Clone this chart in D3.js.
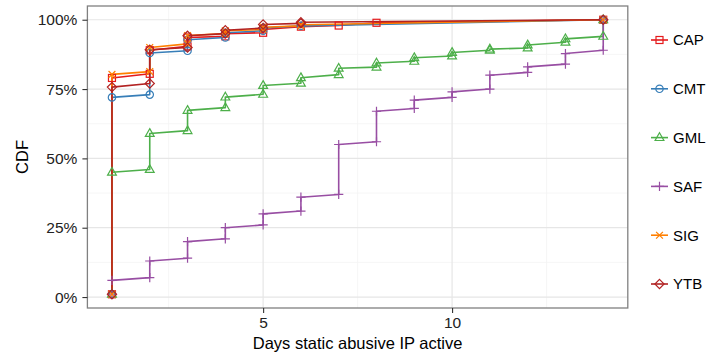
<!DOCTYPE html>
<html>
<head>
<meta charset="utf-8">
<script src="https://cdn.jsdelivr.net/npm/d3@7"></script>
<style>
  html, body { margin: 0; padding: 0; background: #fff; }
  svg { display: block; font-family: "Liberation Sans", Arial, Helvetica, sans-serif; }
</style>
</head>
<body>
<svg id="chart" width="706" height="356"></svg>
<script>
// ---- data (x = days, y = CDF in %) ----
const seriesNames = ["CAP", "CMT", "GML", "SAF", "SIG", "YTB"];
const seriesColors = ["#E41A1C", "#377EB8", "#4DAF4A", "#984EA3", "#FF7F00", "#B22222"];
const seriesShapes = ["square", "circle", "triangle", "plus", "cross", "diamond"];

const capX = [1, 1, 2, 2, 3, 3, 4, 4, 5, 5, 6, 7, 8, 14];
const capY = [1, 79, 80.5, 89, 90.4, 93.6, 94, 95, 95.3, 96.5, 97.5, 97.9, 98.9, 100];

const cmtX = [1, 1, 2, 2, 3, 3, 4, 4, 5, 5, 6, 14];
const cmtY = [1, 72, 73, 88, 88.8, 92.8, 93.6, 95.3, 96, 97, 97.8, 100];

const gmlX = [1, 1, 2, 2, 3, 3, 4, 4, 5, 5, 6, 6, 7, 7, 8, 8, 9, 9, 10, 10, 11, 11, 12, 12, 13, 13, 14, 14];
const gmlY = [1, 45, 46, 59, 60, 67.3, 68.3, 72.1, 73.1, 76.3, 77.1, 79.1, 80.2, 82.5, 82.9, 84.4, 85, 86.3, 86.9, 88.2, 89, 89.4, 89.8, 90.9, 91.9, 93.1, 94, 100];

const safX = [1, 1, 2, 2, 3, 3, 4, 4, 5, 5, 6, 6, 7, 7, 8, 8, 9, 9, 10, 10, 11, 11, 12, 12, 13, 13, 14, 14];
const safY = [1, 6, 7, 13, 14, 20, 21, 25, 26, 30, 31, 36, 37, 55, 56, 67, 68, 71, 72, 74, 75, 80, 81, 83, 84, 87.8, 89, 100];

const sigX = [1, 1, 2, 2, 3, 3, 4, 4, 5, 5, 6, 6, 14];
const sigY = [1, 80.3, 81.3, 90, 91.3, 94.3, 95, 96, 96.5, 97.3, 97.8, 98.2, 100];

const ytbX = [1, 1, 2, 2, 3, 3, 4, 4, 5, 5, 6, 6, 14];
const ytbY = [1, 75.7, 77, 89.2, 90, 94.2, 95, 96.2, 97, 98.3, 98.7, 99.1, 100];

const xTicks = [5, 10];
const yTicks = [0, 25, 50, 75, 100];
const yTickLabels = ["0%", "25%", "50%", "75%", "100%"];

const allX = [capX, cmtX, gmlX, safX, sigX, ytbX];
const allY = [capY, cmtY, gmlY, safY, sigY, ytbY];

// ---- layout ----
const svg = d3.select("#chart");
const panel = { left: 87.4, right: 627.8, top: 6, bottom: 308 };

const xMin = 1, xMax = 14, yMin = 1, yMax = 100;
const xPad = (xMax - xMin) * 0.05, yPad = (yMax - yMin) * 0.05;
const x = d3.scaleLinear().domain([xMin - xPad, xMax + xPad]).range([panel.left, panel.right]);
const y = d3.scaleLinear().domain([yMin - yPad, yMax + yPad]).range([panel.bottom, panel.top]);

// background
svg.append("rect").attr("x", panel.left).attr("y", panel.top)
  .attr("width", panel.right - panel.left).attr("height", panel.bottom - panel.top)
  .attr("fill", "#fff");

// grid
const g = svg.append("g");
const xMinor = [2.5, 7.5, 12.5];
const yMinor = [12.5, 37.5, 62.5, 87.5];
g.selectAll(".xminor").data(xMinor).enter().append("line")
  .attr("x1", d => x(d)).attr("x2", d => x(d)).attr("y1", panel.top).attr("y2", panel.bottom)
  .attr("stroke", "#F4F4F4").attr("stroke-width", 0.8);
g.selectAll(".yminor").data(yMinor).enter().append("line")
  .attr("y1", d => y(d)).attr("y2", d => y(d)).attr("x1", panel.left).attr("x2", panel.right)
  .attr("stroke", "#F4F4F4").attr("stroke-width", 0.8);
g.selectAll(".xmajor").data(xTicks).enter().append("line")
  .attr("x1", d => x(d)).attr("x2", d => x(d)).attr("y1", panel.top).attr("y2", panel.bottom)
  .attr("stroke", "#E6E6E6").attr("stroke-width", 1.2);
g.selectAll(".ymajor").data(yTicks).enter().append("line")
  .attr("y1", d => y(d)).attr("y2", d => y(d)).attr("x1", panel.left).attr("x2", panel.right)
  .attr("stroke", "#E6E6E6").attr("stroke-width", 1.2);

// symbol drawing
function drawShape(sel, shape, color) {
  const sw = 1.2;
  if (shape === "square") {
    sel.append("rect").attr("x", -3.5).attr("y", -3.5).attr("width", 7).attr("height", 7)
      .attr("fill", "none").attr("stroke", color).attr("stroke-width", sw);
  } else if (shape === "circle") {
    sel.append("circle").attr("r", 3.7).attr("fill", "none").attr("stroke", color).attr("stroke-width", sw);
  } else if (shape === "triangle") {
    sel.append("path").attr("d", "M0,-4.8L4.4,2.9L-4.4,2.9Z")
      .attr("fill", "none").attr("stroke", color).attr("stroke-width", sw);
  } else if (shape === "plus") {
    sel.append("path").attr("d", "M-4.6,0H4.6M0,-4.6V4.6")
      .attr("fill", "none").attr("stroke", color).attr("stroke-width", sw);
  } else if (shape === "cross") {
    sel.append("path").attr("d", "M-3.4,-3.4L3.4,3.4M-3.4,3.4L3.4,-3.4")
      .attr("fill", "none").attr("stroke", color).attr("stroke-width", sw);
  } else if (shape === "diamond") {
    sel.append("path").attr("d", "M0,-4.6L4.6,0L0,4.6L-4.6,0Z")
      .attr("fill", "none").attr("stroke", color).attr("stroke-width", sw);
  }
}

// lines
const line = d3.line().x(d => x(d[0])).y(d => y(d[1]));
const seriesData = seriesNames.map((n, i) => allX[i].map((xv, j) => [xv, allY[i][j]]));
const linesG = svg.append("g");
seriesData.forEach((pts, i) => {
  linesG.append("path").datum(pts).attr("d", line)
    .attr("fill", "none").attr("stroke", seriesColors[i]).attr("stroke-width", 1.6)
    .attr("stroke-linejoin", "round");
});
// points
const ptsG = svg.append("g");
seriesData.forEach((pts, i) => {
  pts.forEach(p => {
    const s = ptsG.append("g").attr("transform", `translate(${x(p[0])},${y(p[1])})`);
    drawShape(s, seriesShapes[i], seriesColors[i]);
  });
});

// panel border
svg.append("rect").attr("x", panel.left).attr("y", panel.top)
  .attr("width", panel.right - panel.left).attr("height", panel.bottom - panel.top)
  .attr("fill", "none").attr("stroke", "#808080").attr("stroke-width", 1.3);

// axes
const xAxis = d3.axisBottom(x).tickValues(xTicks).tickSize(5).tickPadding(4).tickFormat(d3.format("d"));
const xg = svg.append("g").attr("transform", `translate(0,${panel.bottom})`).call(xAxis);
xg.select(".domain").remove();
xg.selectAll(".tick line").attr("stroke", "#333").attr("stroke-width", 1.1);
xg.selectAll(".tick text").attr("font-size", 15.5).attr("fill", "#222")
  .attr("font-family", "Liberation Sans, Arial, sans-serif");

const yAxis = d3.axisLeft(y).tickValues(yTicks).tickSize(5).tickPadding(5)
  .tickFormat((d, i) => yTickLabels[i]);
const yg = svg.append("g").attr("transform", `translate(${panel.left},0)`).call(yAxis);
yg.select(".domain").remove();
yg.selectAll(".tick line").attr("stroke", "#333").attr("stroke-width", 1.1);
yg.selectAll(".tick text").attr("font-size", 15.5).attr("fill", "#222")
  .attr("font-family", "Liberation Sans, Arial, sans-serif");

// axis titles
svg.append("text").attr("x", (panel.left + panel.right) / 2).attr("y", 349)
  .attr("text-anchor", "middle").attr("font-size", 16.5).attr("fill", "#000")
  .text("Days static abusive IP active");
svg.append("text").attr("transform", `translate(28,${(panel.top + panel.bottom) / 2}) rotate(-90)`)
  .attr("text-anchor", "middle").attr("font-size", 16.5).attr("fill", "#000")
  .text("CDF");

// legend
const legG = svg.append("g");
seriesNames.forEach((n, i) => {
  const cy = 40 + i * 48.8;
  const kg = legG.append("g").attr("transform", `translate(659.5,${cy})`);
  kg.append("line").attr("x1", -8.5).attr("x2", 8.5).attr("y1", 0).attr("y2", 0)
    .attr("stroke", seriesColors[i]).attr("stroke-width", 1.6);
  drawShape(kg, seriesShapes[i], seriesColors[i]);
  legG.append("text").attr("x", 673).attr("y", cy).attr("dy", "0.36em")
    .attr("font-size", 15).attr("fill", "#000").text(n);
});
</script>
</body>
</html>
